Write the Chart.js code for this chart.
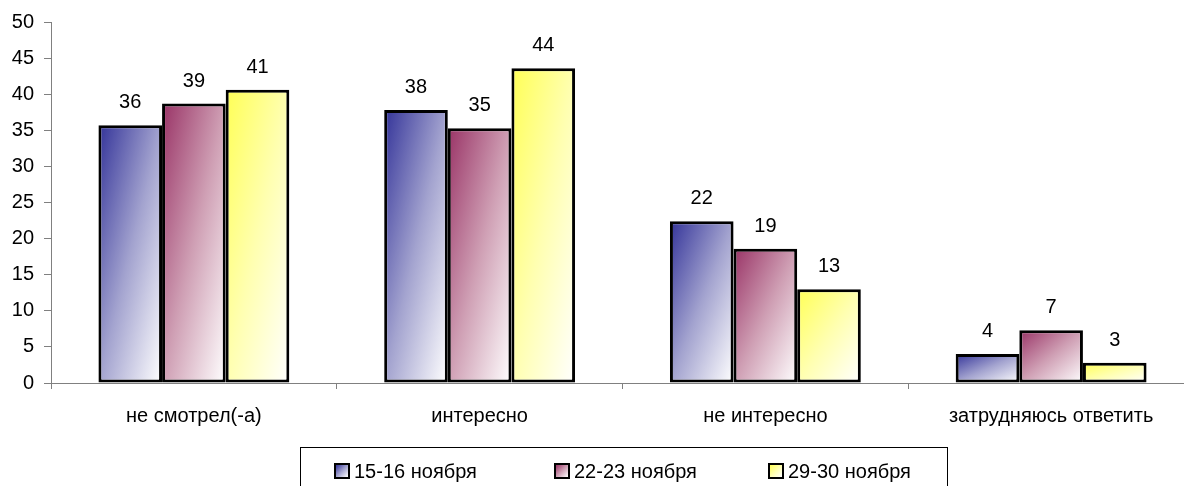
<!DOCTYPE html>
<html>
<head>
<meta charset="utf-8">
<script src="https://cdn.jsdelivr.net/npm/chart.js@4.4.1/dist/chart.umd.min.js"></script>
<style>
    html, body { margin: 0; padding: 0; background: #fff; overflow: hidden; }
    #wrap { position: relative; width: 1235px; height: 486px; }
    #legend {
        position: absolute; left: 300px; top: 447px; width: 648px; height: 60px;
        border: 1.5px solid #000; box-sizing: border-box;
        font-family: "Liberation Sans", Arial, sans-serif; font-size: 20px; color: #000;
    }
    .item { position: absolute; top: 12px; white-space: nowrap; line-height: 22px; }
    .box { display: inline-block; width: 12px; height: 12px; border: 2px solid #000; vertical-align: -1px; margin-right: 4px; }
</style>
</head>
<body>
<div id="wrap">
    <canvas id="chart" width="1235" height="486"></canvas>
    <div id="legend"></div>
</div>
<script>
// data
const categories = ['не смотрел(-а)', 'интересно', 'не интересно', 'затрудняюсь ответить'];
const seriesNames = ['15-16 ноября', '22-23 ноября', '29-30 ноября'];
const nov15 = [35.7, 37.8, 22.4, 4.0];
const nov22 = [38.7, 35.3, 18.6, 7.3];
const nov29 = [40.6, 43.6, 13.0, 2.8];
const yTicks = [0, 5, 10, 15, 20, 25, 30, 35, 40, 45, 50];

const baseColors = ['#333399', '#993366', '#ffff55'];
const midColors = ['#a3a3cf', '#cf9fb4', '#ffffb0'];
const FONT = '"Liberation Sans", Arial, sans-serif';

// diagonal gradient per bar (top-left dark -> bottom-right white)
const gradientPlugin = {
    id: 'barGradient',
    beforeDatasetsDraw(chart) {
        const ctx = chart.ctx;
        chart.data.datasets.forEach((ds, di) => {
            const meta = chart.getDatasetMeta(di);
            meta.data.forEach(el => {
                const w = el.width, h = Math.abs(el.base - el.y);
                const left = el.x - w / 2, top = Math.min(el.y, el.base);
                const t = 2 * w * h / (w * w + h * h);
                const g = ctx.createLinearGradient(left, top, left + t * h, top + t * w);
                g.addColorStop(0, baseColors[di]);
                g.addColorStop(0.5, midColors[di]);
                g.addColorStop(1, '#ffffff');
                el.options = Object.assign({}, el.options, { backgroundColor: g });
            });
        });
    }
};

const valueLabels = {
    id: 'valueLabels',
    afterDatasetsDraw(chart) {
        const ctx = chart.ctx;
        ctx.save();
        ctx.font = '20px ' + FONT;
        ctx.fillStyle = '#000';
        ctx.textAlign = 'center';
        ctx.textBaseline = 'alphabetic';
        chart.data.datasets.forEach((ds, di) => {
            chart.getDatasetMeta(di).data.forEach((el, i) => {
                ctx.fillText(String(Math.round(ds.data[i])), el.x, el.y - 17);
            });
        });
        ctx.restore();
    }
};

new Chart(document.getElementById('chart'), {
    type: 'bar',
    data: {
        labels: categories,
        datasets: [nov15, nov22, nov29].map((d, i) => ({
            label: seriesNames[i],
            data: d,
            backgroundColor: baseColors[i],
            borderColor: '#000',
            borderWidth: 3,
            borderSkipped: false,
            categoryPercentage: 0.668,
            barPercentage: 1
        }))
    },
    options: {
        responsive: false,
        animation: false,
        layout: { padding: { left: 0, top: 22, right: 41, bottom: 0 } },
        plugins: { legend: { display: false }, tooltip: { enabled: false } },
        scales: {
            x: {
                grid: { drawOnChartArea: false, tickLength: 6, color: '#808080', offset: true },
                border: { color: '#808080', width: 1 },
                ticks: { color: '#000', font: { family: FONT, size: 20 }, padding: 15, maxRotation: 0 },
                afterFit: s => { s.height = 103; }
            },
            y: {
                min: 0, max: 50,
                afterBuildTicks: s => { s.ticks = yTicks.map(v => ({ value: v })); },
                grid: { drawOnChartArea: false, tickLength: 7, color: '#808080' },
                border: { color: '#808080', width: 1 },
                ticks: { color: '#000', font: { family: FONT, size: 20 }, padding: 10 },
                afterFit: s => { s.width = 51; }
            }
        }
    },
    plugins: [gradientPlugin, valueLabels]
});

// legend
const legendPos = [33, 253, 467];
const legend = document.getElementById('legend');
seriesNames.forEach((name, i) => {
    const it = document.createElement('div');
    it.className = 'item';
    it.style.left = legendPos[i] + 'px';
    it.innerHTML = '<span class="box" style="background:linear-gradient(135deg,' + baseColors[i] + ',' + midColors[i] + ',#fff)"></span>' + name;
    legend.appendChild(it);
});
</script>
</body>
</html>
